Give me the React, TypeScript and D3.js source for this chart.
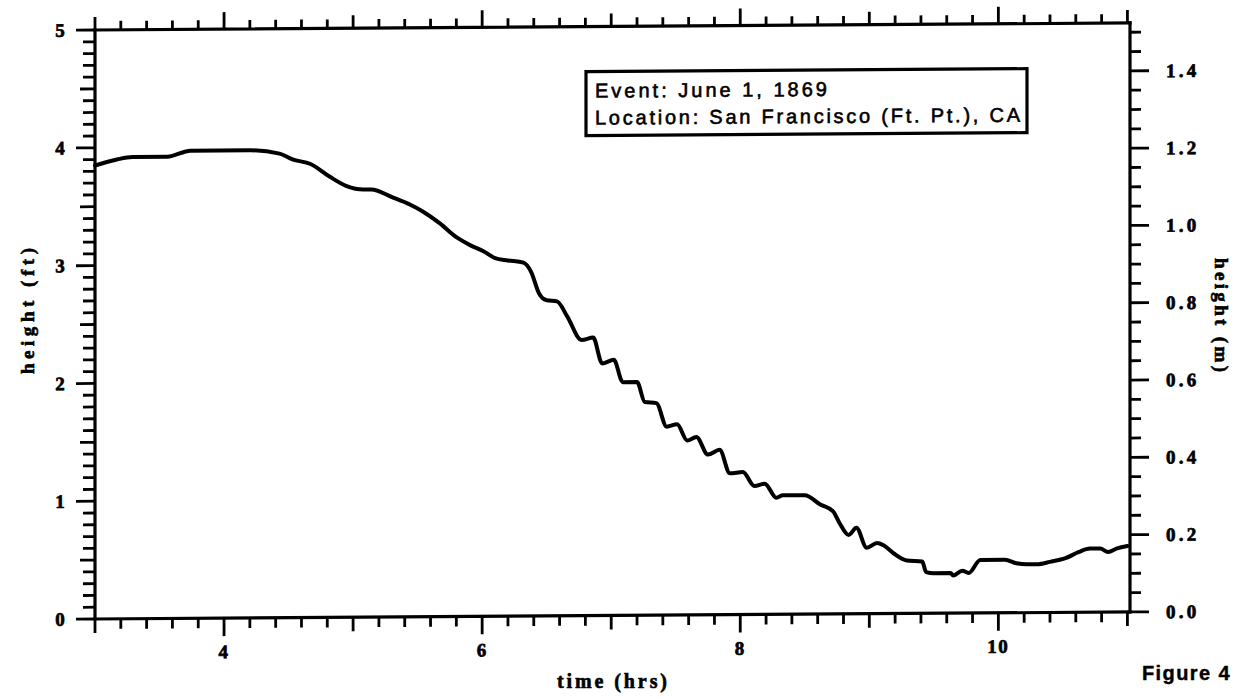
import React from "react";
import * as d3 from "d3";

// time (hrs)
const times = [
  3.00, 3.17, 3.29, 3.56, 3.74, 4.20, 4.43, 4.53, 4.67, 4.82,
  4.95, 5.08, 5.14, 5.31, 5.44, 5.54, 5.67, 5.80, 5.91, 6.01,
  6.10, 6.20, 6.32, 6.38, 6.44, 6.50, 6.58, 6.66, 6.77, 6.86,
  6.93, 7.02, 7.09, 7.20, 7.26, 7.35, 7.43, 7.51, 7.59, 7.66,
  7.75, 7.84, 7.92, 8.02, 8.11, 8.19, 8.28, 8.33, 8.50, 8.62,
  8.72, 8.77, 8.84, 8.90, 8.98, 9.06, 9.11, 9.19, 9.29, 9.41,
  9.44, 9.50, 9.63, 9.65, 9.72, 9.77, 9.86, 10.05, 10.14, 10.22,
  10.30, 10.40, 10.52, 10.62, 10.71, 10.79, 10.85, 10.92, 11.00,
];
// height (ft)
const heightsFt = [
  3.85, 3.90, 3.92, 3.92, 3.97, 3.97, 3.94, 3.89, 3.85, 3.74,
  3.66, 3.63, 3.63, 3.56, 3.50, 3.44, 3.34, 3.22, 3.15, 3.10,
  3.04, 3.02, 3.00, 2.92, 2.74, 2.68, 2.67, 2.54, 2.34, 2.36,
  2.14, 2.17, 1.98, 1.98, 1.81, 1.80, 1.60, 1.62, 1.48, 1.51,
  1.36, 1.40, 1.20, 1.21, 1.09, 1.11, 0.99, 1.01, 1.01, 0.93,
  0.87, 0.77, 0.67, 0.73, 0.56, 0.60, 0.58, 0.51, 0.45, 0.44,
  0.35, 0.34, 0.34, 0.32, 0.36, 0.34, 0.45, 0.45, 0.42, 0.41,
  0.41, 0.43, 0.46, 0.51, 0.54, 0.54, 0.51, 0.54, 0.56,
];

const xTickLabels = [4, 6, 8, 10];
const leftTickLabels = [0, 1, 2, 3, 4, 5];
const rightTickLabels = ["0.0", "0.2", "0.4", "0.6", "0.8", "1.0", "1.2", "1.4"];
const legendLines = ["Event: June 1, 1869", "Location: San Francisco (Ft. Pt.), CA"];
const xTitle = "time  (hrs)";
const yLeftTitle = "height  (ft)";
const yRightTitle = "height  (m)";
const figureLabel = "Figure 4";

const FT_TO_M = 0.3048;

export default function App() {
  const L = 95, R = 1130, T = 30, B = 619;
  const x = d3.scaleLinear().domain([3, 11.02]).range([L, R]);
  const yFt = d3.scaleLinear().domain([0, 5]).range([B, T]);
  const yM = d3.scaleLinear().domain([0, 5 * FT_TO_M]).range([B, T]);

  const pts: [number, number][] = times.map((t, i) => [t, heightsFt[i]]);
  const line = d3
    .line<[number, number]>()
    .x((d) => x(d[0]))
    .y((d) => yFt(d[1]))
    .curve(d3.curveMonotoneX);

  const xTicks = d3.range(0, 41).map((i) => +(3 + i * 0.2).toFixed(2));
  const ftTicks = d3.range(0, 51).map((i) => +(i * 0.1).toFixed(2));
  const mTicks = d3.range(0, 31).map((i) => +(i * 0.05).toFixed(2));

  const xLen = (v: number) => {
    const r = Math.round(v * 10) / 10;
    if (Math.abs(r - Math.round(r)) < 1e-6) {
      return Math.round(r) % 2 === 0 ? 18 : 14;
    }
    return 10;
  };
  const ftLen = (v: number) => {
    const r = Math.round(v * 10);
    if (r % 10 === 0) return 19;
    if (r % 5 === 0) return 15;
    return 12;
  };
  const mLen = (v: number) => {
    const r = Math.round(v * 100);
    if (r % 20 === 0) return 19;
    return 11;
  };

  const serif = "'Liberation Serif', 'Times New Roman', serif";
  const sans = "'Liberation Sans', Arial, Helvetica, sans-serif";
  const sw = 3.2;

  return (
    <svg
      width={1237}
      height={700}
      style={{ position: "absolute", left: 0, top: 0, background: "#fff" }}
    >
      <rect x={0} y={0} width={1237} height={700} fill="#fff" />
      <g transform={`translate(${L},0) skewY(-0.39) translate(${-L},0)`}>
        {/* frame */}
        <g stroke="#000" strokeWidth={sw} strokeLinecap="square" fill="none">
          <line x1={L} y1={T} x2={R} y2={T} />
          <line x1={L} y1={B} x2={R} y2={B} />
          <line x1={L} y1={T} x2={L} y2={B} />
          <line x1={R} y1={T} x2={R} y2={B} />
        </g>
        {/* ticks */}
        <g stroke="#000" strokeWidth={2.8}>
          {xTicks.map((v) => (
            <g key={"xt" + v}>
              <line x1={x(v)} x2={x(v)} y1={B} y2={B + xLen(v)} />
              <line x1={x(v)} x2={x(v)} y1={T} y2={T - xLen(v) + 1} />
            </g>
          ))}
          {ftTicks.map((v) => (
            <line key={"ft" + v} x1={L} x2={L - ftLen(v)} y1={yFt(v)} y2={yFt(v)} />
          ))}
          {mTicks.map((v) => (
            <line key={"m" + v} x1={R} x2={R + mLen(v)} y1={yM(v)} y2={yM(v)} />
          ))}
        </g>
        {/* tick labels */}
        <g fontFamily={serif} fontWeight="bold" fill="#000" stroke="#000" strokeWidth={0.7}>
          {xTickLabels.map((v) => (
            <text
              key={"xl" + v}
              x={x(v)}
              y={B + 40}
              textAnchor="middle"
              fontSize={19}
              letterSpacing={1.5}
            >
              {v}
            </text>
          ))}
          {leftTickLabels.map((v) => (
            <text
              key={"yl" + v}
              x={60}
              y={yFt(v) + 6.5}
              textAnchor="middle"
              fontSize={19}
            >
              {v}
            </text>
          ))}
          {rightTickLabels.map((s) => (
            <text
              key={"yr" + s}
              x={1166}
              y={yM(+s) + 6.5}
              textAnchor="start"
              fontSize={19}
              letterSpacing={3.2}
            >
              {s}
            </text>
          ))}
        </g>
        {/* data line */}
        <path
          d={line(pts) || ""}
          fill="none"
          stroke="#000"
          strokeWidth={4}
          strokeLinejoin="round"
          strokeLinecap="round"
        />
        {/* legend box */}
        <rect
          x={586}
          y={75}
          width={441}
          height={64}
          fill="#fff"
          stroke="#000"
          strokeWidth={3.2}
        />
        <g fontFamily={sans} fill="#000" stroke="#000" strokeWidth={0.6} fontSize={20}>
          <text x={595} y={101} textLength={232} lengthAdjust="spacing">
            {legendLines[0]}
          </text>
          <text x={595} y={128} textLength={425} lengthAdjust="spacing">
            {legendLines[1]}
          </text>
        </g>
      </g>
      {/* axis titles */}
      <g fontFamily={serif} fontWeight="bold" fill="#000" stroke="#000" strokeWidth={0.6}>
        <text x={557} y={688} fontSize={20} textLength={110} lengthAdjust="spacing">
          {xTitle}
        </text>
        <text
          transform={`translate(34,311) rotate(-90)`}
          textAnchor="middle"
          fontSize={19}
          textLength={126}
          lengthAdjust="spacing"
        >
          {yLeftTitle}
        </text>
        <text
          transform={`translate(1215,315) rotate(90)`}
          textAnchor="middle"
          fontSize={19}
          textLength={114}
          lengthAdjust="spacing"
        >
          {yRightTitle}
        </text>
      </g>
      <text
        x={1142}
        y={680}
        fontFamily={sans}
        fontWeight="bold"
        fontSize={20}
        letterSpacing={1.4}
        fill="#000"
        stroke="#000"
        strokeWidth={0.4}
      >
        {figureLabel}
      </text>
    </svg>
  );
}
